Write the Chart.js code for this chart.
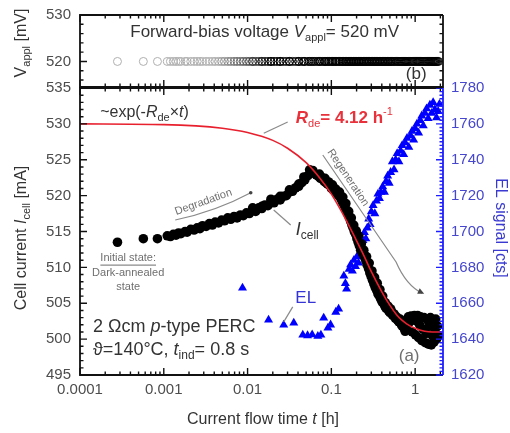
<!DOCTYPE html>
<html>
<head>
<meta charset="utf-8">
<script src="https://cdn.jsdelivr.net/npm/chart.js@4.4.1/dist/chart.umd.min.js"></script>
<style>
html, body { margin: 0; padding: 0; background: #fff; }
#wrap { position: relative; width: 510px; height: 433px; }
#wrap canvas { position: absolute; left: 0; top: 0; }
</style>
</head>
<body>
<div id="wrap">
  <canvas id="mainChart" width="510" height="433"></canvas>
  <canvas id="topChart" width="510" height="92"></canvas>
</div>
<script>
// tick labels
const xTicks = [0.0001, 0.001, 0.01, 0.1, 1];
const vTicks = [520, 530];

// applied voltage (panel b), constant during the run
const vAppl = 520;

// cell current I_cell [mA] vs time [h]
const timeI = [
  0.00028, 0.00057, 0.00084,
  0.0011, 0.0012, 0.0013, 0.0014, 0.0015, 0.0016, 0.0018, 0.0019, 0.0021, 0.0023,
  0.0025, 0.0027, 0.0029, 0.0032, 0.0035, 0.0038, 0.0041, 0.0045, 0.0049, 0.0053,
  0.0058, 0.0063, 0.0069, 0.0075, 0.0082, 0.0089, 0.0097, 0.0105, 0.0115, 0.0125,
  0.0136, 0.0148, 0.0161, 0.0175, 0.019, 0.0207, 0.0225, 0.0245, 0.0267, 0.029,
  0.0316, 0.0344, 0.0375, 0.0408, 0.0444, 0.0483, 0.0526, 0.0573, 0.0624,
  0.066, 0.070, 0.074, 0.078, 0.082, 0.086, 0.090, 0.095, 0.100, 0.105, 0.110,
  0.116, 0.122, 0.128, 0.134, 0.140, 0.146, 0.152, 0.158, 0.164, 0.170, 0.176,
  0.182, 0.188, 0.195, 0.202, 0.209, 0.216, 0.224, 0.232, 0.240, 0.249, 0.258,
  0.268, 0.278, 0.288, 0.299, 0.31, 0.322, 0.334, 0.347, 0.36, 0.374, 0.388,
  0.403, 0.418, 0.434, 0.45, 0.467, 0.485, 0.50, 0.52, 0.54, 0.56, 0.58, 0.60,
  0.62, 0.64, 0.66, 0.68, 0.70, 0.72, 0.74, 0.76, 0.78, 0.80, 0.83, 0.86, 0.89,
  0.92, 0.95, 0.98, 1.01, 1.04, 1.07, 1.10, 1.13, 1.16, 1.20, 1.24, 1.28, 1.32,
  1.36, 1.40, 1.44, 1.48, 1.52, 1.56, 1.60, 1.64, 1.68, 1.72, 1.76, 1.80, 1.85, 1.90,
  // second pass of the thick band
  0.0115, 0.0148, 0.019, 0.0245, 0.0316, 0.0408, 0.047, 0.055, 0.060, 0.072, 0.084,
  0.093, 0.103, 0.113, 0.125, 0.137, 0.149, 0.161, 0.173, 0.185, 0.198, 0.212,
  0.228, 0.244, 0.263, 0.283, 0.305, 0.328, 0.353, 0.38, 0.41, 0.44, 0.475, 0.51
];
const cellI = [
  513.5, 514.0, 514.0,
  514.4, 514.3, 514.6, 514.5, 514.8, 514.7, 515.0, 514.9, 515.3, 515.2,
  515.5, 515.4, 515.8, 515.7, 516.1, 515.9, 516.3, 516.2, 516.6, 516.5,
  516.9, 516.7, 517.1, 516.9, 517.3, 517.2, 517.6, 517.5, 517.9, 517.8,
  518.3, 518.2, 518.7, 518.6, 519.1, 519.0, 519.5, 519.4, 519.9, 520.0,
  520.5, 520.6, 521.1, 521.3, 521.8, 522.2, 522.8, 523.3, 523.1,
  522.9, 522.7, 522.4, 522.5, 522.0, 521.8, 521.6, 521.5, 521.0, 520.8, 520.6,
  520.3, 520.0, 519.7, 519.2, 518.8, 518.3, 517.9, 517.4, 516.9, 516.4, 515.9,
  515.5, 515.0, 514.6, 514.0, 513.5, 513.0, 512.4, 512.1, 511.8, 511.4, 510.9,
  510.3, 509.8, 509.2, 508.7, 508.2, 507.7, 507.2, 506.8, 506.3, 506.0, 505.6,
  505.2, 505.0, 504.6, 504.3, 504.4, 503.9, 503.7, 503.9, 503.3, 503.5, 502.9, 503.1,
  502.6, 502.4, 502.8, 502.1, 501.8, 502.2, 501.5, 501.1, 501.6, 502.7, 503.1, 502.4, 503.2,
  501.0, 502.8, 503.3, 500.6, 502.5, 503.3, 500.2, 502.0, 503.1, 499.8, 501.4, 503.0, 499.5,
  500.8, 502.7, 499.3, 501.9, 503.0, 499.2, 500.5, 502.4, 499.6, 501.2, 502.8, 500.0, 501.8, 500.5,
  518.3, 518.5, 519.5, 519.9, 520.8, 521.6, 522.6, 523.6, 523.5, 523.0, 522.4,
  521.9, 521.5, 520.9, 520.5, 519.8, 518.9, 517.8, 516.9, 515.9, 515.1, 514.4,
  513.3, 512.4, 511.5, 510.6, 509.5, 508.6, 507.8, 506.9, 506.0, 505.1, 504.6, 504.2
];

// fitted curve ~exp(-R_de*t), R_de = 4.12 1/h
const timeFit = [0.0001, 0.001, 0.005, 0.01, 0.02, 0.03, 0.05, 0.07, 0.1, 0.15, 0.2, 0.25,
  0.3, 0.4, 0.5, 0.6, 0.7, 0.8, 1.0, 1.3, 1.6, 2.15];
const fitI = [530.0, 529.9, 529.4, 528.8, 527.7, 526.6, 524.6, 522.7, 520.2, 516.6, 513.7, 511.4,
  509.4, 506.6, 504.7, 503.4, 502.6, 502.1, 501.5, 501.1, 501.0, 501.0];

// electroluminescence signal [cts]
const timeEL = [
  0.0087, 0.0178, 0.027, 0.0356, 0.0456, 0.052, 0.059, 0.069, 0.075, 0.081, 0.091, 0.098,
  0.113, 0.122, 0.141, 0.147, 0.152, 0.163, 0.170, 0.178, 0.186, 0.194, 0.202, 0.211,
  0.220, 0.229, 0.238, 0.248, 0.258, 0.268, 0.279, 0.29, 0.30, 0.315, 0.33, 0.345, 0.36,
  0.375, 0.39, 0.41, 0.43, 0.45, 0.47, 0.49, 0.51, 0.535, 0.56, 0.585, 0.61, 0.64, 0.67,
  0.70, 0.73, 0.76, 0.80, 0.84, 0.88, 0.92, 0.96, 1.00, 1.05, 1.10, 1.15, 1.20, 1.25,
  1.31, 1.37, 1.43, 1.50, 1.57, 1.64, 1.72, 1.80, 1.88, 1.95
];
const elSignal = [
  1668.5, 1650.7, 1647.9, 1649.0, 1642.3, 1642.0, 1642.5, 1641.7, 1642.3, 1651.8, 1646.2, 1648.0,
  1655.1, 1656.8, 1675.2, 1671.0, 1668.0, 1679.0, 1681.5, 1678.0, 1684.0, 1680.5, 1686.0, 1682.5,
  1691.0, 1688.0, 1695.0, 1699.5, 1696.0, 1702.0, 1707.0, 1704.0, 1711.0, 1714.5, 1710.0, 1717.0, 1721.0,
  1718.5, 1722.0, 1725.0, 1722.0, 1728.0, 1731.0, 1727.0, 1733.0, 1739.0, 1734.5, 1740.0, 1743.5, 1739.0, 1745.0,
  1748.0, 1743.0, 1749.5, 1752.0, 1747.0, 1753.5, 1756.0, 1751.0, 1757.5, 1760.0, 1755.0, 1762.0, 1764.5, 1759.0,
  1766.0, 1768.5, 1763.0, 1770.5, 1766.0, 1772.0, 1768.0, 1763.5, 1767.0, 1771.0
];

const FONT = '"Liberation Sans", Arial, sans-serif';
const GREY = '#6f6f6f';
const TICK = '#4d4d4d';
const BLUE = '#1e1eff';

const pts = (xs, ys) => xs.map((x, i) => ({ x: x, y: ys[i] }));

// text with italic / sub / superscript parts
function richText(ctx, x, y, parts, size, color, align) {
  const fontOf = (f, s) => (f.includes('i') ? 'italic ' : '') + (f.includes('b') ? 'bold ' : '') + s + 'px ' + FONT;
  const segs = parts.map(([t, f = '']) => {
    const small = f.includes('_') || f.includes('^');
    const s = small ? Math.round(size * 0.66) : size;
    const dy = f.includes('_') ? size * 0.33 : f.includes('^') ? -size * 0.38 : 0;
    ctx.font = fontOf(f, s);
    return { t, font: fontOf(f, s), dy, w: ctx.measureText(t).width };
  });
  const total = segs.reduce((a, s) => a + s.w, 0);
  let cx = align === 'center' ? x - total / 2 : align === 'right' ? x - total : x;
  ctx.fillStyle = color;
  ctx.textBaseline = 'middle';
  ctx.textAlign = 'left';
  segs.forEach(s => { ctx.font = s.font; ctx.fillText(s.t, cx, y + s.dy); cx += s.w; });
  return total;
}

function rotText(ctx, x, y, ang, parts, size, color) {
  ctx.save();
  ctx.translate(x, y);
  ctx.rotate(ang);
  richText(ctx, 0, 0, parts, size, color, 'center');
  ctx.restore();
}

function arrowHead(ctx, x, y, fromX, fromY, size, color) {
  const a = Math.atan2(y - fromY, x - fromX);
  ctx.save();
  ctx.fillStyle = color;
  ctx.beginPath();
  ctx.moveTo(x, y);
  ctx.lineTo(x - size * Math.cos(a - 0.45), y - size * Math.sin(a - 0.45));
  ctx.lineTo(x - size * Math.cos(a + 0.45), y - size * Math.sin(a + 0.45));
  ctx.closePath();
  ctx.fill();
  ctx.restore();
}

// inward ticks + box
function yTickMarks(ctx, scale, x0, dir, major, minor) {
  const start = Math.ceil(scale.min / minor - 1e-9) * minor;
  for (let v = start; v <= scale.max + 1e-9; v += minor) {
    const y = scale.getPixelForValue(v);
    const isMajor = Math.abs(v / major - Math.round(v / major)) < 1e-6;
    const len = isMajor ? 7 : 3.5;
    ctx.moveTo(x0, y);
    ctx.lineTo(x0 + dir * len, y);
  }
}

function framePlugin(cfg) {
  return {
    id: 'frame',
    afterDatasetsDraw(chart) {
      const { ctx, chartArea: a } = chart;
      const xs = chart.scales.x;
      ctx.save();
      ctx.lineWidth = 1.4;
      ctx.strokeStyle = '#111';
      ctx.beginPath();
      for (let e = -4; e <= 0; e++) {
        for (let k = 1; k <= 9; k++) {
          const v = k * Math.pow(10, e);
          if (v > xs.max) break;
          const x = xs.getPixelForValue(v);
          const len = k === 1 ? 7 : 3.5;
          ctx.moveTo(x, a.bottom); ctx.lineTo(x, a.bottom - len);
          ctx.moveTo(x, a.top); ctx.lineTo(x, a.top + len);
        }
      }
      yTickMarks(ctx, chart.scales.y, a.left, 1, cfg.major, cfg.minor);
      if (!cfg.right) yTickMarks(ctx, chart.scales.y, a.right, -1, cfg.major, cfg.minor);
      ctx.stroke();
      // box
      ctx.lineWidth = 1.8;
      ctx.beginPath();
      ctx.moveTo(a.right, a.top); ctx.lineTo(a.left, a.top);
      ctx.lineTo(a.left, a.bottom); ctx.lineTo(a.right, a.bottom);
      if (!cfg.right) ctx.lineTo(a.right, a.top);
      ctx.stroke();
      if (cfg.right) {
        ctx.strokeStyle = BLUE;
        ctx.lineWidth = 1.4;
        ctx.beginPath();
        yTickMarks(ctx, chart.scales[cfg.right.id], a.right, -1, cfg.right.major, cfg.right.minor);
        ctx.stroke();
        ctx.lineWidth = 1.8;
        ctx.beginPath();
        ctx.moveTo(a.right, a.top); ctx.lineTo(a.right, a.bottom);
        ctx.stroke();
      }
      ctx.restore();
      if (cfg.notes) cfg.notes(chart);
    }
  };
}

const xScale = axisHeight => ({
  type: 'logarithmic',
  min: 0.0001,
  max: 2.15,
  display: axisHeight > 0,
  afterBuildTicks: s => { s.ticks = xTicks.map(v => ({ value: v })); },
  afterFit: s => { s.height = axisHeight; s.paddingLeft = 0; s.paddingRight = 0; },
  grid: { display: false, drawTicks: false },
  border: { display: false },
  ticks: { callback: v => String(v), color: TICK, font: { family: FONT, size: 15 }, padding: 6, maxRotation: 0, autoSkip: false }
});

// fixed-width y axis without label overhang padding
const fitY = w => s => { s.width = w; s.paddingTop = 0; s.paddingBottom = 0; };

// ---------- panel (a) ----------
function mainNotes(chart) {
  const ctx = chart.ctx;
  const P = (t, v) => [chart.scales.x.getPixelForValue(t), chart.scales.y.getPixelForValue(v)];
  ctx.save();

  richText(ctx, ...P(0.000174, 531.6), [['~exp(-'], ['R', 'i'], ['de', '_'], ['×'], ['t', 'i'], [')']], 16, '#333', 'left');
  richText(ctx, ...P(0.0376, 530.8), [['R', 'ib'], ['de', '_'], ['= 4.12 h', 'b'], ['-1', '^']], 17, '#e8313a', 'left');

  // leader lines
  ctx.strokeStyle = '#8a8a8a';
  ctx.lineWidth = 1.2;
  const line = (a, b) => { ctx.beginPath(); ctx.moveTo(...a); ctx.lineTo(...b); ctx.stroke(); };
  line(P(0.0301, 530.26), P(0.0156, 528.7));
  line(P(0.0205, 518.0), P(0.0327, 515.9));
  line(P(0.0346, 504.5), P(0.027, 502.4));

  // degradation arrow
  const d1 = P(0.00137, 516.6), d2 = P(0.0109, 520.4);
  ctx.beginPath();
  ctx.moveTo(...d1);
  ctx.quadraticCurveTo((d1[0] + d2[0]) / 2 + 3, (d1[1] + d2[1]) / 2 + 5, d2[0], d2[1]);
  ctx.stroke();
  ctx.fillStyle = '#444';
  ctx.beginPath(); ctx.arc(d2[0], d2[1], 1.8, 0, Math.PI * 2); ctx.fill();
  rotText(ctx, ...P(0.00297, 519.1), -0.34, [['Degradation']], 11, GREY);

  // regeneration arrow
  const r1 = P(0.079, 525.66), r2 = P(0.592, 510.75), rc = P(0.78, 507.5), r3 = P(1.213, 506.4);
  ctx.beginPath();
  ctx.moveTo(...r1);
  ctx.lineTo(...r2);
  ctx.quadraticCurveTo(rc[0], rc[1], r3[0], r3[1]);
  ctx.stroke();
  arrowHead(ctx, r3[0] + 2, r3[1] + 0.5, rc[0], rc[1], 7, '#444');
  rotText(ctx, ...P(0.158, 522.5), 0.98, [['Regeneration']], 11, GREY);

  richText(ctx, ...P(0.0376, 515.2), [['I', 'i'], ['cell', '_']], 18, '#333', 'left');
  richText(ctx, ...P(0.0495, 505.7), [['EL']], 17, '#3535d5', 'center');

  // initial state note
  const ini = P(0.000376, 511.3);
  const w = richText(ctx, ini[0], ini[1], [['Initial state:']], 11, GREY, 'center');
  ctx.beginPath(); ctx.moveTo(ini[0] - w / 2, ini[1] + 7); ctx.lineTo(ini[0] + w / 2, ini[1] + 7); ctx.stroke();
  richText(ctx, ...P(0.000376, 509.2), [['Dark-annealed']], 11, GREY, 'center');
  richText(ctx, ...P(0.000376, 507.3), [['state']], 11, GREY, 'center');

  richText(ctx, ...P(0.000143, 501.7), [['2 Ωcm '], ['p', 'i'], ['-type PERC']], 18, '#333', 'left');
  richText(ctx, ...P(0.000143, 498.5), [['ϑ=140°C, '], ['t', 'i'], ['ind', '_'], ['= 0.8 s']], 18, '#333', 'left');
  richText(ctx, ...P(0.847, 497.6), [['(a)']], 17, GREY, 'center');

  // axis titles
  rotText(ctx, 22, 238, -Math.PI / 2, [['Cell current '], ['I', 'i'], ['cell', '_'], [' [mA]']], 16, '#333');
  rotText(ctx, 500, 228, Math.PI / 2, [['EL signal [cts]']], 16, '#3a3ad0');
  richText(ctx, 263, 420, [['Current flow time '], ['t', 'i'], [' [h]']], 16, '#333', 'center');
  ctx.restore();
}

new Chart(document.getElementById('mainChart'), {
  type: 'scatter',
  data: {
    datasets: [
      {
        label: 'fit',
        data: pts(timeFit, fitI),
        showLine: true,
        borderColor: '#e8202e',
        borderWidth: 1.6,
        pointRadius: 0,
        cubicInterpolationMode: 'monotone',
        order: 0
      },
      {
        label: 'Icell',
        data: pts(timeI, cellI),
        backgroundColor: '#000',
        borderColor: '#000',
        pointRadius: 4.8,
        borderWidth: 0,
        order: 1
      },
      {
        label: 'EL',
        data: pts(timeEL, elSignal),
        yAxisID: 'y2',
        pointStyle: 'triangle',
        backgroundColor: '#0000ff',
        borderColor: '#0000ff',
        borderWidth: 0,
        pointRadius: 5.2,
        order: 2
      }
    ]
  },
  options: {
    responsive: false,
    animation: false,
    devicePixelRatio: 1,
    events: [],
    layout: { padding: { top: 88, left: 0, right: 0, bottom: 0 } },
    plugins: { legend: { display: false }, tooltip: { enabled: false } },
    scales: {
      x: xScale(58),
      y: {
        min: 495, max: 535,
        afterFit: fitY(80),
        grid: { display: false, drawTicks: false },
        border: { display: false },
        ticks: { stepSize: 5, callback: v => String(v), color: TICK, font: { family: FONT, size: 15 }, padding: 9 }
      },
      y2: {
        position: 'right',
        min: 1620, max: 1780,
        afterFit: fitY(67),
        grid: { display: false, drawTicks: false },
        border: { display: false },
        ticks: { stepSize: 20, callback: v => String(v), color: '#4646cf', font: { family: FONT, size: 15 }, padding: 8 }
      }
    }
  },
  plugins: [framePlugin({ major: 5, minor: 1, right: { id: 'y2', major: 20, minor: 2 }, notes: mainNotes })]
});

// ---------- panel (b) ----------
function topNotes(chart) {
  const ctx = chart.ctx;
  const P = (t, v) => [chart.scales.x.getPixelForValue(t), chart.scales.y.getPixelForValue(v)];
  ctx.save();
  richText(ctx, ...P(0.016, 526.3), [['Forward-bias voltage '], ['V', 'i'], ['appl', '_'], ['= 520 mV']], 17, '#333', 'center');
  richText(ctx, ...P(1.03, 517.2), [['(b)']], 17, '#333', 'center');
  rotText(ctx, 22, 43, -Math.PI / 2, [['V'], ['appl', '_'], [' [mV]']], 16, '#333');
  ctx.restore();
}

// circle shade follows time (dense, overlapping markers look darker)
const shade = t => {
  const f = Math.min(1, Math.max(0, (Math.log10(t) + 2.4) / 0.7));
  const g = Math.round(175 * (1 - f));
  return `rgb(${g},${g},${g})`;
};

new Chart(document.getElementById('topChart'), {
  type: 'scatter',
  data: {
    datasets: [{
      label: 'Vappl',
      data: timeI.map(t => ({ x: t, y: vAppl })),
      backgroundColor: 'rgba(0,0,0,0)',
      borderColor: c => shade(c.raw ? c.raw.x : 1),
      borderWidth: 1,
      pointRadius: 4
    }]
  },
  options: {
    responsive: false,
    animation: false,
    devicePixelRatio: 1,
    events: [],
    layout: { padding: { top: 15, left: 0, right: 67, bottom: 4 } },
    plugins: { legend: { display: false }, tooltip: { enabled: false } },
    scales: {
      x: xScale(0),
      y: {
        min: 514.5, max: 530,
        afterBuildTicks: s => { s.ticks = vTicks.map(v => ({ value: v })); },
        afterFit: fitY(80),
        grid: { display: false, drawTicks: false },
        border: { display: false },
        ticks: { callback: v => String(v), color: TICK, font: { family: FONT, size: 15 }, padding: 9 }
      }
    }
  },
  plugins: [framePlugin({ major: 10, minor: 2, notes: topNotes })]
});
</script>
</body>
</html>
